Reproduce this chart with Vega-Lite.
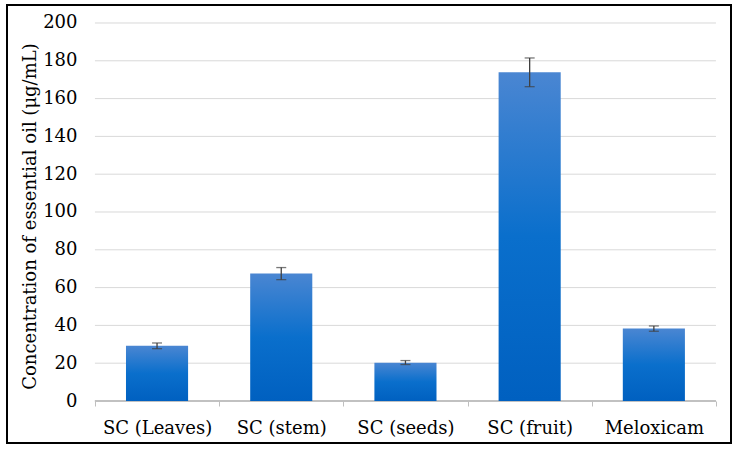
{
  "$schema": "https://vega.github.io/schema/vega-lite/v6.json",
  "width": 724,
  "height": 438,
  "autosize": "none",
  "padding": {"left": 7, "top": 5, "right": 8, "bottom": 11},
  "background": "#ffffff",
  "config": {
    "view": {"stroke": "#000000", "strokeWidth": 2},
    "font": "DejaVu Serif"
  },
  "data": {
    "values": [
      {"sample": "SC (Leaves)", "value": 29.2, "lo": 27.7, "hi": 30.7},
      {"sample": "SC (stem)", "value": 67.4, "lo": 64.2, "hi": 70.6},
      {"sample": "SC (seeds)", "value": 20.3, "lo": 19.3, "hi": 21.4},
      {"sample": "SC (fruit)", "value": 173.9, "lo": 166.3, "hi": 181.5},
      {"sample": "Meloxicam", "value": 38.3, "lo": 36.9, "hi": 39.7}
    ]
  },
  "encoding": {
    "x": {
      "field": "sample",
      "type": "nominal",
      "sort": null,
      "scale": {
        "domain": ["SC (Leaves)", "SC (stem)", "SC (seeds)", "SC (fruit)", "Meloxicam"],
        "paddingInner": 0, "paddingOuter": 0.4145, "align": 0.854
      },
      "axis": {
        "orient": "bottom",
        "offset": -42,
        "title": null,
        "domain": false,
        "grid": false,
        "tickBand": "extent",
        "tickColor": "#bfbfbf",
        "tickSize": 5,
        "labelAngle": 0,
        "labelFont": "DejaVu Serif",
        "labelFontSize": 18,
        "labelColor": "#000000",
        "labelBaseline": "alphabetic",
        "labelPadding": 27
      }
    }
  },
  "layer": [
    {
      "data": {"values": [{"g": 20}, {"g": 40}, {"g": 60}, {"g": 80}, {"g": 100}, {"g": 120}, {"g": 140}, {"g": 160}, {"g": 180}, {"g": 200}]},
      "mark": {"type": "rule", "color": "#d9d9d9", "strokeWidth": 1},
      "encoding": {
        "x": {"datum": "SC (Leaves)", "type": "nominal", "bandPosition": 0},
        "x2": {"datum": "Meloxicam", "bandPosition": 1},
        "y": {"field": "g", "type": "quantitative"}
      }
    },
    {
      "mark": {"type": "rule", "color": "#bfbfbf", "strokeWidth": 1},
      "encoding": {
        "x": {"datum": "SC (Leaves)", "type": "nominal", "bandPosition": 0},
        "x2": {"datum": "Meloxicam", "bandPosition": 1},
        "y": {"datum": 0, "type": "quantitative"}
      }
    },
    {
      "mark": {
        "type": "bar",
        "width": {"band": 0.5},
        "color": {
          "x1": 0, "y1": 0, "x2": 0, "y2": 1,
          "gradient": "linear",
          "stops": [
            {"offset": 0, "color": "#4a86d2"},
            {"offset": 0.5, "color": "#0a6fcc"},
            {"offset": 1, "color": "#0060c0"}
          ]
        }
      },
      "encoding": {
        "y": {
          "field": "value",
          "type": "quantitative",
          "scale": {"domain": [-22.22, 209.52], "nice": false, "zero": false},
          "axis": {
            "orient": "left",
            "values": [0, 20, 40, 60, 80, 100, 120, 140, 160, 180, 200],
            "offset": -70,
            "domain": false,
            "ticks": false,
            "tickSize": 0,
            "grid": false,
            "labelPadding": 0,
            "labelFont": "DejaVu Serif",
            "labelFontSize": 18,
            "labelColor": "#000000",
            "title": "Concentration of essential oil (μg/mL)",
            "titleFont": "DejaVu Serif",
            "titleFontSize": 18,
            "titleFontWeight": "normal",
            "titleColor": "#000000",
            "titleAngle": -90,
            "titleAlign": "center",
            "titleBaseline": "alphabetic",
            "titleX": -42,
            "titleY": 211
          }
        },
        "y2": {"datum": 0}
      }
    },
    {
      "mark": {"type": "rule", "color": "#404040", "strokeWidth": 1.3},
      "encoding": {
        "y": {"field": "lo", "type": "quantitative"},
        "y2": {"field": "hi"}
      }
    },
    {
      "mark": {"type": "tick", "color": "#404040", "thickness": 1.3, "size": 10, "orient": "horizontal"},
      "encoding": {"y": {"field": "lo", "type": "quantitative"}}
    },
    {
      "mark": {"type": "tick", "color": "#404040", "thickness": 1.3, "size": 10, "orient": "horizontal"},
      "encoding": {"y": {"field": "hi", "type": "quantitative"}}
    }
  ]
}
